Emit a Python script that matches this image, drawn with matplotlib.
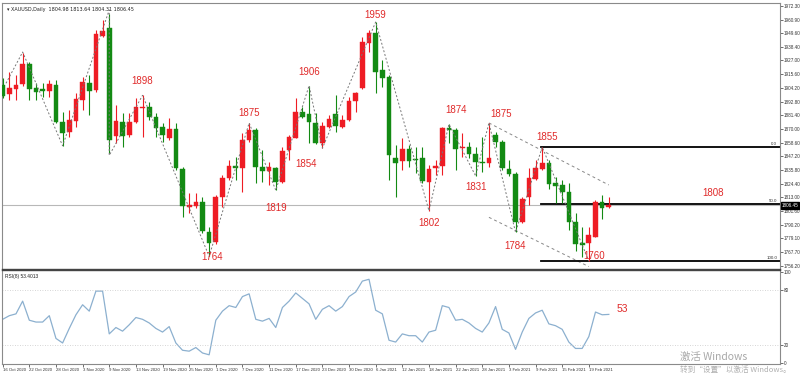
import numpy as np
import matplotlib
matplotlib.use("Agg")
import matplotlib.pyplot as plt

plt.rcParams["font.family"] = ["Liberation Sans", "DejaVu Sans"]

# daily XAUUSD bars, 16 Oct 2020 onwards
opens = [1906.6, 1899.1, 1903.3, 1907.4, 1924.1, 1904.1, 1903.3, 1901.6, 1906.6, 1875.8,
         1867.5, 1876.6, 1894.1, 1908.2, 1902.4, 1947.3, 1954.0, 1864.1, 1875.8, 1865.0,
         1875.8, 1887.5, 1888.3, 1880.0, 1871.6, 1862.5, 1870.0, 1836.7, 1805.1, 1805.9,
         1809.2, 1784.3, 1776.0, 1813.4, 1829.2, 1839.2, 1837.5, 1860.8, 1869.1, 1838.4,
         1835.0, 1837.5, 1825.9, 1852.5, 1862.5, 1884.1, 1882.5, 1875.0, 1858.3, 1871.6,
         1882.5, 1871.6, 1877.5, 1893.3, 1904.1, 1941.5, 1949.8, 1919.1, 1913.2, 1845.8,
         1843.3, 1853.3, 1845.0, 1845.8, 1825.9, 1837.5, 1839.2, 1870.8, 1869.1, 1854.2,
         1855.0, 1849.2, 1842.5, 1841.7, 1865.0, 1859.2, 1836.7, 1832.5, 1792.6, 1813.4,
         1828.4, 1836.7, 1841.7, 1825.0, 1823.4, 1817.6, 1792.6, 1775.1, 1775.1, 1780.1,
         1809.2, 1804.98]
highs = [1912.4, 1917.4, 1914.9, 1933.0, 1925.5, 1908.2, 1908.2, 1910.7, 1910.7, 1884.1,
         1885.8, 1899.9, 1913.2, 1914.9, 1952.3, 1960.7, 1966.0, 1889.9, 1883.3, 1883.3,
         1895.8, 1898.3, 1892.4, 1883.3, 1875.0, 1879.1, 1875.0, 1838.4, 1816.7, 1816.7,
         1813.4, 1788.4, 1815.1, 1831.7, 1844.2, 1846.7, 1866.6, 1875.0, 1870.8, 1852.5,
         1842.5, 1838.4, 1855.0, 1865.0, 1895.8, 1888.3, 1905.7, 1883.3, 1875.8, 1881.6,
         1898.3, 1881.6, 1896.6, 1900.8, 1946.5, 1952.3, 1959.0, 1927.4, 1914.9, 1856.7,
         1862.5, 1856.7, 1855.0, 1855.0, 1840.0, 1844.2, 1871.6, 1874.1, 1870.8, 1866.6,
         1859.2, 1855.0, 1863.3, 1875.0, 1867.5, 1860.8, 1844.2, 1834.2, 1813.4, 1837.5,
         1844.2, 1855.0, 1844.2, 1830.0, 1827.5, 1825.0, 1800.1, 1788.4, 1788.4, 1810.9,
         1815.1, 1813.64]
lows = [1895.8, 1894.1, 1894.1, 1906.0, 1894.1, 1894.1, 1896.6, 1896.6, 1875.0, 1856.0,
        1863.3, 1871.6, 1885.8, 1881.6, 1901.0, 1946.5, 1850.0, 1858.3, 1855.0, 1863.3,
        1875.0, 1863.3, 1877.5, 1863.3, 1859.2, 1860.8, 1835.9, 1796.8, 1800.1, 1804.2,
        1783.4, 1764.3, 1774.3, 1805.1, 1827.5, 1827.5, 1817.6, 1859.2, 1825.0, 1825.9,
        1823.4, 1819.2, 1825.0, 1844.2, 1862.5, 1879.1, 1858.3, 1857.5, 1854.2, 1870.8,
        1867.5, 1870.8, 1876.6, 1884.1, 1903.3, 1934.0, 1899.9, 1904.9, 1827.5, 1813.4,
        1835.9, 1838.4, 1833.4, 1825.0, 1801.7, 1831.7, 1831.7, 1858.3, 1835.9, 1846.7,
        1845.8, 1830.9, 1834.2, 1838.4, 1855.0, 1835.9, 1830.9, 1784.3, 1791.8, 1806.7,
        1827.5, 1835.9, 1820.1, 1808.4, 1808.4, 1785.9, 1768.5, 1763.5, 1760.1, 1780.1,
        1795.1, 1804.31]
closes = [1897.4, 1904.1, 1906.6, 1924.1, 1903.3, 1900.8, 1901.6, 1907.4, 1875.8, 1866.6,
          1877.5, 1894.9, 1909.1, 1901.6, 1949.0, 1951.5, 1860.8, 1876.6, 1864.1, 1875.8,
          1888.3, 1888.3, 1880.0, 1870.8, 1865.0, 1870.0, 1837.5, 1805.9, 1806.7, 1809.2,
          1785.1, 1775.1, 1813.4, 1829.2, 1839.2, 1837.5, 1860.8, 1869.1, 1838.4, 1835.0,
          1838.4, 1825.9, 1851.7, 1863.3, 1884.1, 1880.0, 1875.8, 1858.3, 1872.5, 1878.3,
          1872.5, 1877.5, 1893.3, 1899.9, 1942.4, 1949.8, 1917.4, 1912.4, 1848.3, 1841.7,
          1853.3, 1843.3, 1844.2, 1826.7, 1836.7, 1839.2, 1870.8, 1869.1, 1853.3, 1855.0,
          1849.2, 1842.5, 1841.7, 1845.8, 1859.2, 1837.5, 1832.5, 1792.6, 1811.7, 1829.2,
          1837.5, 1841.7, 1824.2, 1822.5, 1817.6, 1792.6, 1774.3, 1773.5, 1781.8, 1809.2,
          1804.2, 1806.45]

rsi = [48, 52, 54, 68, 47, 45, 45, 52, 27, 22,
       38, 53, 64, 57, 79, 79, 32, 39, 35, 42,
       50, 48, 44, 38, 34, 40, 22, 14, 13, 17,
       11, 9, 47, 57, 63, 61, 73, 76, 48, 46,
       49, 39, 61, 68, 77, 71, 65, 48, 59, 63,
       57, 62, 73, 78, 90, 92, 58, 54, 25, 23,
       32, 30, 30, 23, 34, 36, 63, 61, 47, 48,
       44, 38, 34, 44, 62, 37, 33, 15, 34, 49,
       55, 58, 43, 41, 37, 23, 16, 16, 29, 56,
       53, 53.4]

date_labels = ["16 Oct 2020", "22 Oct 2020", "28 Oct 2020", "3 Nov 2020", "9 Nov 2020",
               "13 Nov 2020", "19 Nov 2020", "25 Nov 2020", "1 Dec 2020", "7 Dec 2020",
               "11 Dec 2020", "17 Dec 2020", "23 Dec 2020", "30 Dec 2020", "6 Jan 2021",
               "12 Jan 2021", "18 Jan 2021", "22 Jan 2021", "28 Jan 2021", "3 Feb 2021",
               "9 Feb 2021", "15 Feb 2021", "19 Feb 2021"]

price_ticks = [1972.30, 1960.90, 1949.60, 1938.40, 1927.00, 1915.60, 1904.20, 1892.80,
               1881.40, 1870.00, 1858.60, 1847.20, 1835.80, 1824.40, 1813.00, 1801.60,
               1790.20, 1779.10, 1767.70, 1756.20]
rsi_ticks = [100, 80, 20, 0]

# zigzag swing points
swing_bars = [0.5, 3, 9, 16, 16, 21, 31, 37, 41, 46, 48, 56, 64, 67, 71, 73, 77, 81, 88]
swing_prices = [1908, 1934, 1856, 1969, 1848, 1898, 1764, 1875, 1819, 1906, 1854, 1959,
                1802, 1874, 1831, 1875, 1784, 1855, 1760]

# channel lines (bar, price)
upper_channel = [(73, 1875.0), (91, 1823.4)]
lower_channel = [(73, 1796.5), (88, 1755.5)]

fib_levels = [1855.0, 1807.5, 1760.0]
fib_names = ["0.0", "50.0", "100.0"]
fib_start = 80.8

note_text = ["1898", "1875", "1764", "1819", "1906", "1854", "1959", "1874", "1802",
             "1875", "1831", "1784", "1855", "1760", "1808"]
note_bar = [21, 37, 31.5, 41, 46, 45.6, 56, 68, 64, 74.8, 71, 77, 81.7, 88.8, 106.6]
note_price = [1910.0, 1883.5, 1763.5, 1804.3, 1917.4, 1841.0, 1964.8, 1885.8, 1791.8,
              1882.5, 1821.7, 1772.6, 1863.3, 1764.3, 1816.7]

last_price = closes[-1]
W, H = 800, 375
red = "#ee1c24"
green = "#138a13"
note_red = "#e02a2a"

fig = plt.figure(figsize=(W / 100, H / 100), dpi=100)
ax = fig.add_axes([2 / W, 1 - 269 / H, 778 / W, 266 / H])
ax2 = fig.add_axes([2 / W, 1 - 364 / H, 778 / W, 94 / H], sharex=ax)

idx = np.arange(len(opens))
o = np.array(opens); c = np.array(closes)
up = c >= o
cols = np.where(up, red, green)
ax.vlines(idx, lows, highs, colors=cols, lw=0.8, zorder=3)
body_lo = np.minimum(o, c)
body_h = np.maximum(np.abs(c - o), 0.9)
ax.bar(idx, body_h, bottom=body_lo, width=0.7, color=cols, edgecolor=cols, lw=0.3, zorder=4)

# bid line
ax.axhline(last_price, color="#b8b8b8", lw=0.8, zorder=1)

# zigzag
ax.plot(swing_bars, swing_prices, color="#777777", lw=0.7, ls=(0, (2, 2)), zorder=5)
for seg in (upper_channel, lower_channel):
    xs, ys = zip(*seg)
    ax.plot(xs, ys, color="#888888", lw=0.7, ls=(0, (3, 3)), zorder=2)

# fibonacci levels
for lvl, name in zip(fib_levels, fib_names):
    ax.plot([fib_start, 116.7], [lvl, lvl], color="black", lw=1.3, zorder=2)
    ax.text(116.3, lvl + 0.8, name, fontsize=3.2, color="#333333", ha="right", va="bottom")

for t, bx, py in zip(note_text, note_bar, note_price):
    ax.text(bx, py, t, fontsize=7, color=note_red, ha="center", va="center", zorder=6)

ax.set_xlim(-0.1, 116.7)
ax.set_ylim(1753.5, 1974.8)
ax.yaxis.tick_right()
ax.set_yticks(price_ticks)
ax.set_yticklabels([f"{v:.2f}" for v in price_ticks])
ax.tick_params(axis="y", labelsize=3.3, length=2, width=0.5, pad=1, colors="#333333")
ax.tick_params(axis="x", bottom=False, labelbottom=False)
ax.text(116.95, last_price, f"{last_price:.2f}", fontsize=3.3, color="white", ha="left",
        va="center", bbox=dict(boxstyle="square,pad=0.15", fc="black", ec="black"),
        clip_on=False, zorder=10)
ax.text(0.006, 0.985, "\u25be XAUUSD,Daily  1804.98 1813.64 1804.31 1806.45",
        transform=ax.transAxes, fontsize=3.5, color="#222222", ha="left", va="top",
        family=["DejaVu Sans"])

for a in (ax, ax2):
    for s in a.spines.values():
        s.set_color("#8a8a8a")
        s.set_linewidth(0.8)
ax.spines["bottom"].set_color("#444444")
ax.spines["bottom"].set_linewidth(1.0)
ax2.spines["top"].set_color("#444444")
ax2.spines["top"].set_linewidth(1.0)

# RSI panel
ax2.plot(idx, rsi, color="#8cb0cf", lw=0.9)
for lvl in (80, 20):
    ax2.axhline(lvl, color="#c8c8c8", lw=0.6, ls=(0, (1, 2)))
ax2.text(0.004, 0.96, "RSI(8) 53.4013", transform=ax2.transAxes, fontsize=3.5,
         color="#222222", ha="left", va="top")
ax2.text(91 + 1.2, 53 + 6, "53", fontsize=7.5, color=note_red, ha="left", va="center")
ax2.set_ylim(-1.1, 102.2)
ax2.yaxis.tick_right()
ax2.set_yticks(rsi_ticks)
ax2.set_yticklabels([str(v) for v in rsi_ticks])
ax2.tick_params(axis="y", labelsize=3.3, length=2, width=0.5, pad=1, colors="#333333")
ax2.set_xticks(np.arange(len(date_labels)) * 4)
ax2.set_xticklabels(date_labels, ha="left")
ax2.tick_params(axis="x", labelsize=3.1, length=2, width=0.5, pad=1, colors="#333333")

# windows activation watermark
fig.text(680 / W, 1 - 357 / H, "激活 Windows", fontsize=7.5, color="#a8a8a8",
         family=["Noto Sans CJK SC", "DejaVu Sans"], va="center")
fig.text(680 / W, 1 - 370 / H, "转到“设置”以激活 Windows。", fontsize=5.5, color="#b0b0b0",
         family=["Noto Sans CJK SC", "DejaVu Sans"], va="center")

fig.savefig("out.png", dpi=100)
